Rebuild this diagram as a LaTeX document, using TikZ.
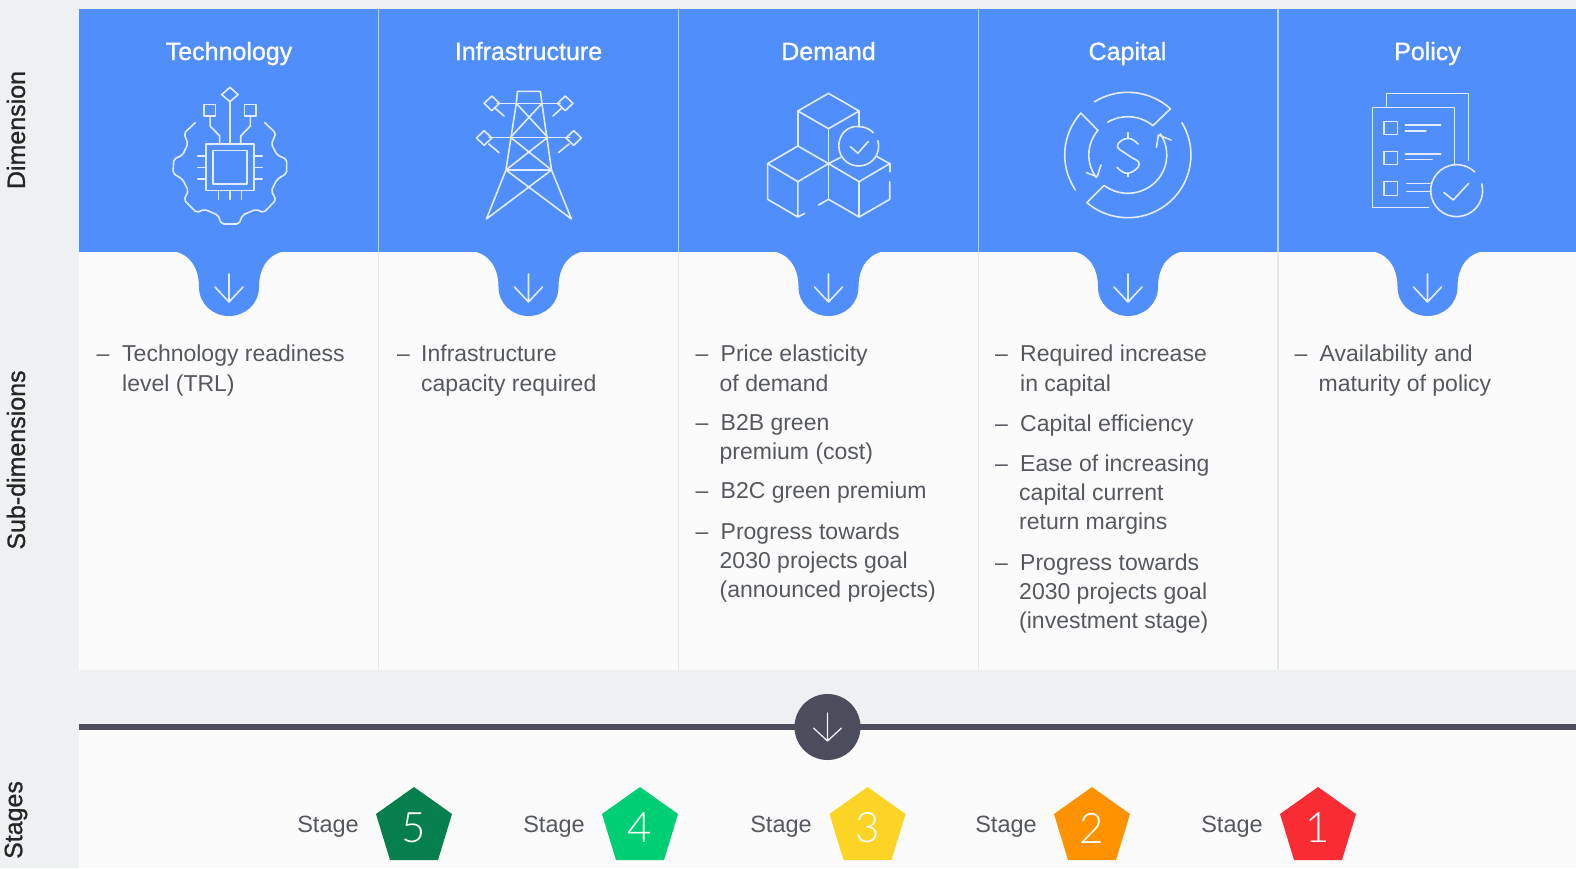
\documentclass[tikz,border=0pt]{standalone}
\usepackage{fontspec}
\setmainfont{Liberation Sans}
\newfontfamily\thinfont{Lato Light}
\newfontfamily\medfont[FakeBold=1]{Liberation Sans}
\definecolor{band}{HTML}{EDF1F1}
\definecolor{paper}{HTML}{FBFBFB}
\definecolor{blue1}{HTML}{4F8EFB}
\definecolor{sepl}{HTML}{E4E8EA}
\definecolor{sepb}{HTML}{BFD5FB}
\definecolor{ink}{HTML}{55585F}
\definecolor{dark}{HTML}{4B4D5C}
\definecolor{iconc}{HTML}{E3ECFE}
\tikzset{
  icon/.style={draw=iconc,line width=1.6pt,line join=round,line cap=round},
  title/.style={text=white,inner sep=0pt,anchor=base,font=\medfont\fontsize{25}{28}\selectfont},
  body/.style={text=ink,inner sep=0pt,anchor=base west,font=\fontsize{23}{28}\selectfont},
  side/.style={text=black!85,inner sep=0pt,rotate=90,font=\medfont\fontsize{25}{28}\selectfont},
  stagelabel/.style={text=ink,inner sep=0pt,font=\fontsize{23.5}{28}\selectfont},
  digit/.style={text=white,inner sep=0pt,font=\thinfont\fontsize{42}{44}\selectfont}
}
\begin{document}
\begin{tikzpicture}[x=1pt,y=-1pt]
\useasboundingbox (0,0) rectangle (1576,868);
\fill[band] (0,0) rectangle (1576,868);
\fill[paper] (79,252) rectangle (1576,670);
\fill[paper] (79,727) rectangle (1576,868);
\fill[blue1] (79,9) rectangle (1576,252);
% separators
\foreach \x in {378.5,678.5,978.5,1278}{
  \draw[sepb,line width=1.8pt] (\x,9) -- (\x,252);
  \draw[sepl,line width=1.8pt] (\x,252) -- (\x,670);
}
% pendants and arrows
\foreach \c in {229,528.5,828.5,1128,1427.5}{
  \fill[blue1] (\c-60,251) .. controls (\c-44,251) and (\c-30,263) .. (\c-30,287)
    .. controls (\c-30,304) and (\c-16,316) .. (\c,316)
    .. controls (\c+16,316) and (\c+30,304) .. (\c+30,287)
    .. controls (\c+30,263) and (\c+44,251) .. (\c+60,251) -- cycle;
  \draw[icon] (\c,274) -- (\c,302) (\c-14,287) -- (\c,302) -- (\c+14,287);
}
% titles
\node[title] (t1) at (229,60) {Technology};
\node[title] (t2) at (528.5,60) {Infrastructure};
\node[title] (t3) at (828.5,60) {Demand};
\node[title] (t4) at (1127.5,60) {Capital};
\node[title] (t5) at (1427.5,60) {Policy};
% side labels
\node[side] (s1) at (16,130) {Dimension};
\node[side] (s2) at (16,460) {Sub-dimensions};
\node[side] (s3) at (16,820) {Stages};
% technology icon
\begin{scope}[shift={(80,0)},x=.3827pt,y=-.3333pt,icon]
\draw[rounded corners=2pt] (302,367) -- (272,400) -- (282,432) -- (268,465) -- (245,478) -- (243,520) -- (268,538) -- (283,572) -- (272,600) -- (305,638) -- (325,628) -- (360,645) -- (370,672) -- (415,672) -- (425,645) -- (460,628) -- (480,638) -- (512,600) -- (500,572) -- (515,538) -- (540,520) -- (540,478) -- (515,465) -- (500,432) -- (512,400) -- (482,367);
\draw (330,432) rectangle (455,572);
\draw (348,452) rectangle (436,552);
\foreach \v in {468,503,537}{\draw (308,\v) -- (330,\v) (455,\v) -- (476,\v);}
\foreach \v in {362,392,422}{\draw (\v,572) -- (\v,598);}
\draw (392,432) -- (392,305);
\draw (392,262) -- (413,284) -- (392,305) -- (370,284) -- cycle;
\draw (365,432) -- (365,408) -- (340,378) -- (340,348);
\draw (324,314) rectangle (354,348);
\draw (420,432) -- (420,408) -- (445,378) -- (445,348);
\draw (430,314) rectangle (460,348);
% tower
\draw (1140,310) -- (1143,274) -- (1203,274) -- (1207,310);
\draw (1140,310) -- (1113,510) -- (1062,657) -- (1232,510);
\draw (1207,310) -- (1232,510) -- (1284,657) -- (1113,510);
\draw (1090,310) -- (1255,310) (1068,412) -- (1280,412) (1113,510) -- (1232,510);
\draw (1140,310) -- (1222,412) -- (1113,510);
\draw (1207,310) -- (1125,412) -- (1232,510);
\foreach \a/\b in {1076/310,1268/310,1056/414,1290/414}{
  \draw (\a-20,\b) -- (\a,\b-22) -- (\a+20,\b) -- (\a,\b+22) -- cycle;}
\draw (1085,325) -- (1108,348) (1258,325) -- (1236,348) (1068,432) -- (1095,458) (1278,432) -- (1250,458);
\end{scope}
% demand icon
\begin{scope}[shift={(680,0)},x=.3827pt,y=-.3333pt,icon]
\draw (388,280) -- (468,333) -- (388,386) -- (308,333) -- cycle;
\draw (308,333) -- (308,438) (388,386) -- (388,598) (468,333) -- (468,380);
\draw (308,438) -- (388,491) -- (308,545) -- (229,491) -- cycle;
\draw (229,491) -- (229,598) -- (308,651) -- (326,640) (308,545) -- (308,651);
\draw (420,472) -- (388,491) -- (468,545) -- (548,491) -- (515,470);
\draw (468,545) -- (468,651) (548,491) -- (548,515);
\draw (548,545) -- (548,598) -- (468,651) -- (388,598) -- (362,615);
\draw (445,440) -- (465,460) -- (492,424);
\draw (505,398) .. controls (490,380) and (470,378) .. (455,380)
  .. controls (430,385) and (415,410) .. (415,438)
  .. controls (415,472) and (438,498) .. (467,498)
  .. controls (496,498) and (519,472) .. (519,438)
  .. controls (519,432) and (519,428) .. (517,422);
\end{scope}
% capital icon
\begin{scope}[shift={(1127.8,155)},icon]
\pgfmathsetmacro{\rxo}{63.1}\pgfmathsetmacro{\ryo}{-62.7}
\pgfmathsetmacro{\rxi}{39}\pgfmathsetmacro{\ryi}{-38.3}
\draw ({\rxo*cos(122)},{\ryo*sin(122)}) arc[start angle=122,end angle=47.5,x radius=\rxo,y radius=\ryo]
  -- ({\rxi*cos(50)},{\ryi*sin(50)}) arc[start angle=50,end angle=121,x radius=\rxi,y radius=\ryi];
\draw ({\rxo*cos(214)},{\ryo*sin(214)}) arc[start angle=214,end angle=138,x radius=\rxo,y radius=\ryo]
  -- ({\rxi*cos(140)},{\ryi*sin(140)}) arc[start angle=140,end angle=216,x radius=\rxi,y radius=\ryi];
\draw ({\rxo*cos(31)},{\ryo*sin(31)}) arc[start angle=31,end angle=-130.5,x radius=\rxo,y radius=\ryo]
  -- ({\rxi*cos(-127.5)},{\ryi*sin(-127.5)}) arc[start angle=-127.5,end angle=33.6,x radius=\rxi,y radius=\ryi];
\end{scope}
\begin{scope}[shift={(680,0)},x=.3827pt,y=-.3333pt,icon]
\draw (1062,518) -- (1090,530) -- (1100,495);
\draw (1245,442) -- (1250,405) -- (1283,420);
\draw (1170,398) -- (1170,415) (1170,520) -- (1170,530);
\draw plot[smooth,tension=.8] coordinates {(1197,432) (1170,415) (1143,438) (1170,465) (1200,492) (1170,520) (1142,502)};
\end{scope}
% policy icon
\begin{scope}[shift={(1280,60)},x=.3333pt,y=-.3333pt,icon]
\draw (320,140) -- (320,100) -- (566,100) -- (566,300);
\draw (446,442) -- (277,442) -- (277,143) -- (523,143) -- (523,312);
\draw (312,184) rectangle (353,224) (312,274) rectangle (353,314) (312,365) rectangle (353,406);
\draw (376,195) -- (482,195) (376,213) -- (438,213) (376,282) -- (482,282) (376,299) -- (456,299) (380,371) -- (450,371) (380,394) -- (450,394);
\draw (530,392) ++(15:78 and -78) arc[start angle=15,end angle=-314,x radius=78,y radius=-78];
\draw (492,398) -- (520,420) -- (566,370);
\end{scope}
% body text
\foreach \i/\x/\y/\t in {
 1/96.5/361/--,2/122/361/{Technology readiness},3/122/391/{level (TRL)},
 4/397/361/--,5/421/361/{Infrastructure},6/421/391/{capacity required},
 7/695.5/361/--,8/720.5/361/{Price elasticity},9/719.5/391/{of demand},
 10/695.5/430/--,11/720.5/430/{B2B green},12/719.5/459/{premium (cost)},
 13/695.5/498/--,14/720.5/498/{B2C green premium},
 15/695.5/539/--,16/720.5/539/{Progress towards},17/719.5/568/{2030 projects goal},18/719.5/597/{(announced projects)},
 19/995/361/--,20/1020/361/{Required increase},21/1020/391/{in capital},
 22/995/431/--,23/1020/431/{Capital efficiency},
 24/995/471/--,25/1020/471/{Ease of increasing},26/1019/500/{capital current},27/1019/529/{return margins},
 28/995/570/--,29/1020/570/{Progress towards},30/1019/599/{2030 projects goal},31/1019/628/{(investment stage)},
 32/1294.5/361/--,33/1319.5/361/{Availability and},34/1318.5/391/{maturity of policy}}{
  \node[body] (b\i) at (\x,\y) {\t};
}
% stages bar
\draw[dark,line width=5.5pt] (79,727) -- (1576,727);
\node[circle,fill=dark,minimum size=66pt,inner sep=0pt] (bar) at (827.5,727) {};
\draw[draw=white!90!dark,line width=1.3pt,line cap=round,line join=round] (bar.center) ++(0,-14) -- ++(0,28) ++(-14,-13) -- ++(14,13) -- ++(14,-13);
% stages
\foreach \n/\c/\lx/\col in {5/414/328/067F4E,4/640/554/00CE74,3/867.5/781/FCD425,2/1092/1006/FF9200,1/1318/1232/F92B33}{
  \definecolor{pc}{HTML}{\col}
  \fill[pc] (\c,787) -- (\c+38,814) -- (\c+24,860) -- (\c-24,860) -- (\c-38,814) -- cycle;
  \node[digit] (d\n) at (\c,828) {\n};
  \node[stagelabel] (l\n) at (\lx,827) {Stage};
}
\end{tikzpicture}
\end{document}
